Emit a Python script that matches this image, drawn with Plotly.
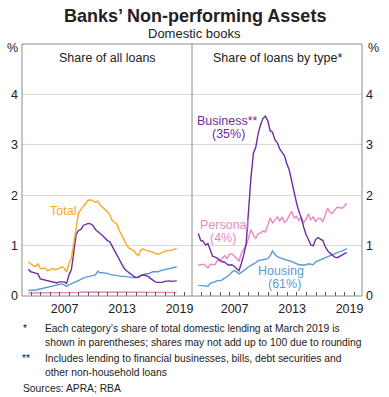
import plotly.graph_objects as go
import pandas as pd

# Quarterly observations, Sep 2003 to Mar 2019
dates = pd.date_range("2003-09-30", "2019-03-31", freq="QE")
years = [d.year + (d.month - 0.5) / 12 for d in dates]

# Left panel: share of all loans (%)
total = [0.68, 0.63, 0.60, 0.58, 0.64, 0.55, 0.54, 0.56, 0.50, 0.52,
         0.55, 0.52, 0.53, 0.55, 0.58, 0.55, 0.48, 0.65, 0.75, 1.05,
         1.40, 1.65, 1.72, 1.78, 1.85, 1.90, 1.91, 1.89, 1.86, 1.88,
         1.80, 1.76, 1.72, 1.67, 1.62, 1.50, 1.46, 1.43, 1.30, 1.20,
         1.10, 1.02, 0.95, 0.92, 0.90, 0.84, 0.80, 0.91, 0.93, 0.91,
         0.90, 0.89, 0.87, 0.85, 0.83, 0.84, 0.87, 0.89, 0.90, 0.90,
         0.91, 0.93, 0.95]
business_all = [0.53, 0.48, 0.47, 0.46, 0.44, 0.34, 0.33, 0.31, 0.30, 0.30,
                0.29, 0.28, 0.26, 0.28, 0.28, 0.28, 0.25, 0.42, 0.52, 0.90,
                1.22, 1.30, 1.32, 1.40, 1.42, 1.44, 1.43, 1.40, 1.32, 1.27,
                1.24, 1.20, 1.15, 1.10, 1.08, 0.99, 0.89, 0.80, 0.72, 0.62,
                0.55, 0.50, 0.47, 0.43, 0.39, 0.37, 0.37, 0.41, 0.42, 0.41,
                0.39, 0.35, 0.31, 0.28, 0.27, 0.27, 0.27, 0.29, 0.30, 0.30,
                0.29, 0.30, 0.30]
housing_all = [0.11, 0.11, 0.11, 0.12, 0.13, 0.14, 0.16, 0.17, 0.18, 0.19,
               0.20, 0.21, 0.22, 0.23, 0.24, 0.22, 0.19, 0.22, 0.24, 0.26,
               0.29, 0.31, 0.33, 0.36, 0.37, 0.39, 0.40, 0.41, 0.42, 0.49,
               0.46, 0.46, 0.46, 0.45, 0.43, 0.42, 0.42, 0.41, 0.40, 0.39,
               0.39, 0.39, 0.38, 0.37, 0.36, 0.36, 0.38, 0.40, 0.43, 0.44,
               0.44, 0.46, 0.48, 0.48, 0.48, 0.50, 0.51, 0.52, 0.54, 0.55,
               0.56, 0.57, 0.58]
personal_all = [0.06, 0.06, 0.06, 0.06, 0.06, 0.06, 0.06, 0.06, 0.06, 0.06,
                0.06, 0.06, 0.06, 0.06, 0.06, 0.06, 0.06, 0.06, 0.07, 0.07,
                0.07, 0.07, 0.08, 0.08, 0.08, 0.08, 0.08, 0.08, 0.08, 0.08,
                0.08, 0.08, 0.08, 0.08, 0.08, 0.08, 0.07, 0.07, 0.07, 0.07,
                0.07, 0.07, 0.07, 0.07, 0.07, 0.07, 0.07, 0.07, 0.07, 0.07,
                0.07, 0.07, 0.07, 0.07, 0.07, 0.07, 0.07, 0.07, 0.07, 0.07,
                0.07, 0.07, 0.07]

# Right panel: share of loans by type (%)
business = [1.24, 1.10, 1.09, 1.01, 1.04, 0.92, 0.79, 0.77, 0.75, 0.71,
            0.68, 0.67, 0.63, 0.61, 0.62, 0.59, 0.54, 0.50, 0.65, 0.82,
            1.05, 1.80, 2.35, 2.83, 2.95, 3.22, 3.40, 3.52, 3.57, 3.48,
            3.28, 3.25, 3.10, 3.04, 2.92, 2.85, 2.78, 2.62, 2.50, 2.28,
            2.05, 1.85, 1.68, 1.55, 1.37, 1.22, 1.12, 1.01, 1.00, 1.12,
            1.16, 1.13, 1.10, 0.98, 0.90, 0.85, 0.80, 0.77, 0.76, 0.78,
            0.81, 0.84, 0.86]
personal = [0.61, 0.62, 0.63, 0.60, 0.56, 0.63, 0.63, 0.62, 0.72, 0.69,
            0.75, 0.80, 0.74, 0.83, 0.84, 0.80, 0.75, 0.69, 0.85, 0.93,
            1.00, 1.15, 1.32, 1.20, 1.14, 1.24, 1.25, 1.29, 1.27, 1.40,
            1.55, 1.45, 1.52, 1.57, 1.49, 1.57, 1.46, 1.50, 1.60, 1.68,
            1.55, 1.58, 1.50, 1.56, 1.45, 1.52, 1.63, 1.51, 1.57, 1.47,
            1.54, 1.54, 1.47, 1.62, 1.74, 1.66, 1.64, 1.71, 1.76, 1.75,
            1.74, 1.78, 1.84]
housing = [0.21, 0.21, 0.21, 0.20, 0.19, 0.25, 0.27, 0.28, 0.31, 0.30,
           0.32, 0.35, 0.38, 0.42, 0.47, 0.51, 0.48, 0.44, 0.47, 0.51,
           0.55, 0.58, 0.61, 0.63, 0.66, 0.70, 0.71, 0.71, 0.72, 0.74,
           0.80, 0.89, 0.83, 0.78, 0.76, 0.74, 0.72, 0.71, 0.70, 0.68,
           0.65, 0.63, 0.62, 0.62, 0.61, 0.62, 0.64, 0.63, 0.62, 0.68,
           0.70, 0.72, 0.74, 0.77, 0.78, 0.80, 0.83, 0.84, 0.86, 0.88,
           0.89, 0.91, 0.94]

year_labels = ["2007", "2013", "2019"]
year_label_pos = [2007.5, 2013.5, 2019.5]
year_ticks = list(range(2004, 2021))
y_ticks = [0, 1, 2, 3, 4]

ORANGE = "#F9A825"
PURPLE = "#6F2DA0"
BLUE = "#5B9BD5"
PINK = "#E889C6"
FONT = "Liberation Sans, Arial, sans-serif"
TXT = "#222222"

fig = go.Figure()
lw = 1.4
fig.add_trace(go.Scatter(x=years, y=personal_all, mode="lines", line=dict(color=PINK, width=lw), xaxis="x", yaxis="y"))
fig.add_trace(go.Scatter(x=years, y=housing_all, mode="lines", line=dict(color=BLUE, width=lw), xaxis="x", yaxis="y"))
fig.add_trace(go.Scatter(x=years, y=business_all, mode="lines", line=dict(color=PURPLE, width=lw), xaxis="x", yaxis="y"))
fig.add_trace(go.Scatter(x=years, y=total, mode="lines", line=dict(color=ORANGE, width=lw), xaxis="x", yaxis="y"))

fig.add_trace(go.Scatter(x=years, y=housing, mode="lines", line=dict(color=BLUE, width=lw), xaxis="x2", yaxis="y2"))
fig.add_trace(go.Scatter(x=years, y=personal, mode="lines", line=dict(color=PINK, width=lw), xaxis="x2", yaxis="y2"))
fig.add_trace(go.Scatter(x=years, y=business, mode="lines", line=dict(color=PURPLE, width=lw), xaxis="x2", yaxis="y2"))

W, H = 389, 397
L, R, T, B = 22, 27, 44, 101
pw = W - L - R
ph = H - T - B

xcommon = dict(range=[2003.05, 2020.8], tickmode="array", tickvals=year_label_pos,
               ticktext=year_labels, ticks="", showgrid=False, zeroline=False,
               showline=False, tickfont=dict(size=12.5, color=TXT, family=FONT),
               ticklabelstandoff=3,
               minor=dict(tickmode="array", tickvals=year_ticks, ticks="inside",
                          ticklen=4, tickcolor="#555555", showgrid=False))
ycommon = dict(range=[0, 5], tickmode="array", tickvals=y_ticks, ticks="",
               showgrid=True, gridcolor="#D9D9D9", gridwidth=1, zeroline=False,
               showline=False, tickfont=dict(size=12.5, color=TXT, family=FONT),
               ticklabelstandoff=3)

fig.update_layout(
    width=W, height=H, margin=dict(l=L, r=R, t=T, b=B, pad=0),
    paper_bgcolor="white", plot_bgcolor="white", showlegend=False,
    font=dict(family=FONT, color=TXT),
    xaxis=dict(domain=[0, 0.5], anchor="y", **xcommon),
    xaxis2=dict(domain=[0.5, 1], anchor="y2", **xcommon),
    yaxis=dict(domain=[0, 1], anchor="x", side="left", **ycommon),
    yaxis2=dict(domain=[0, 1], anchor="x2", side="right", **ycommon),
)

# Panel borders
border = dict(color="#8C8C8C", width=1)
fig.add_shape(type="rect", xref="paper", yref="paper", x0=0, x1=1, y0=0, y1=1, line=border)
fig.add_shape(type="line", xref="paper", yref="paper", x0=0.5, x1=0.5, y0=0, y1=1, line=border)


def px(x):
    return (x - L) / pw


def py(y):
    return (H - B - y) / ph


def ann(text, x, y, size=12.5, color=TXT, xanchor="center", bold=False):
    fig.add_annotation(text=f"<b>{text}</b>" if bold else text, x=px(x), y=py(y),
                       xref="paper", yref="paper", showarrow=False,
                       xanchor=xanchor, yanchor="middle",
                       font=dict(size=size, color=color, family=FONT))


ann("Banks’ Non-performing Assets", 194.5, 16, size=18, bold=True)
ann("Domestic books", 194.5, 34, size=13)
ann("Share of all loans", 107, 58)
ann("Share of loans by type*", 277, 58)
ann("%", 12, 48, size=12.5)
ann("%", 373, 48, size=12.5)

ann("Total", 63, 211, color=ORANGE)
ann("Business**", 227, 121, color=PURPLE)
ann("(35%)", 229, 134, color=PURPLE)
ann("Personal", 224, 225, color=PINK)
ann("(4%)", 223, 238, color=PINK)
ann("Housing", 281, 271, color=BLUE)
ann("(61%)", 284, 284, color=BLUE)

fs = 10.3
ann("*", 21, 328, size=fs, xanchor="left")
ann("Each category’s share of total domestic lending at March 2019 is", 43, 328, size=fs, xanchor="left")
ann("shown in parentheses; shares may not add up to 100 due to rounding", 43, 342, size=fs, xanchor="left")
ann("**", 20, 358, size=fs, xanchor="left")
ann("Includes lending to financial businesses, bills, debt securities and", 43, 358, size=fs, xanchor="left")
ann("other non-household loans", 43, 372, size=fs, xanchor="left")
ann("Sources: APRA; RBA", 21, 388, size=fs, xanchor="left")

fig.write_html("out.html", config={"displayModeBar": False},
               post_script="document.body.style.margin='0';document.body.style.overflow='hidden';")
